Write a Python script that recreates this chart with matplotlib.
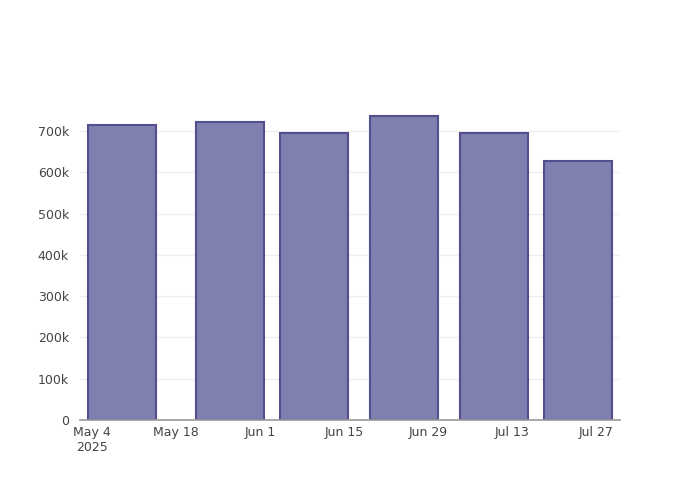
import pandas as pd
import matplotlib.pyplot as plt
from matplotlib.ticker import FuncFormatter

# Data
dates = ["2025-05-09", "2025-05-27", "2025-06-10", "2025-06-25", "2025-07-10", "2025-07-24"]
values = [714000, 721000, 695000, 736000, 695000, 628000]

tick_dates = ["2025-05-04", "2025-05-18", "2025-06-01", "2025-06-15",
              "2025-06-29", "2025-07-13", "2025-07-27"]
tick_labels = ["May 4\n2025", "May 18", "Jun 1", "Jun 15", "Jun 29", "Jul 13", "Jul 27"]

x = pd.to_datetime(dates)

plt.rcParams["font.family"] = ["DejaVu Sans"]
text_color = "#444444"

fig = plt.figure(figsize=(7, 5), dpi=100)
ax = fig.add_axes([80 / 700, 80 / 500, 540 / 700, 320 / 500])

# Bars
ax.bar(x, values, width=11.3, color="#7f7fb0", edgecolor="#534f8f",
       linewidth=1.5, zorder=3)

# Axes ranges
ax.set_xlim(pd.Timestamp("2025-05-02"), pd.Timestamp("2025-07-31"))
ax.set_ylim(0, 775000)

# Ticks
ax.set_xticks(pd.to_datetime(tick_dates))
ax.set_xticklabels(tick_labels)
ax.set_yticks(range(0, 800000, 100000))
ax.yaxis.set_major_formatter(
    FuncFormatter(lambda v, p: "0" if v == 0 else f"{int(v / 1000)}k"))
ax.tick_params(axis="both", length=0, labelsize=9, colors=text_color)
ax.tick_params(axis="x", pad=4)
ax.tick_params(axis="y", pad=8)

# Grid and spines
ax.grid(axis="y", color="#eeeeee", linewidth=1, zorder=0)
for side in ["top", "right", "left"]:
    ax.spines[side].set_visible(False)
ax.spines["bottom"].set_color("#999999")
ax.spines["bottom"].set_linewidth(1.2)
ax.spines["bottom"].set_zorder(4)

fig.savefig("out.png", dpi=100)
